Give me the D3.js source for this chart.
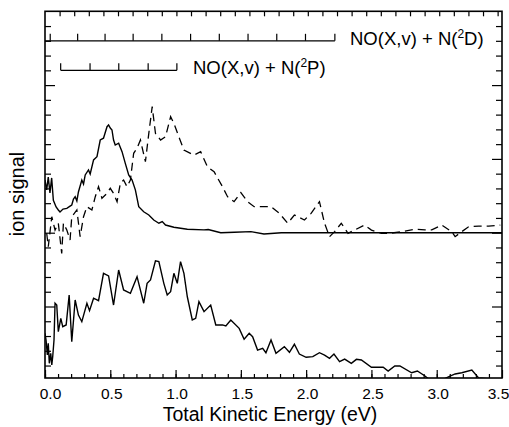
<!DOCTYPE html>
<html>
<head>
<meta charset="utf-8">
<script src="https://cdn.jsdelivr.net/npm/d3@7"></script>
<style>
  body { margin: 0; background: #fff; }
  text { font-family: "Liberation Sans", Arial, sans-serif; fill: #000; }
</style>
</head>
<body>
<div id="chart"></div>
<script>
// energy (eV) tick labels on the bottom axis
const energyMajor = [0, 0.5, 1.0, 1.5, 2.0, 2.5, 3.0, 3.5];
const energyMinor = d3.range(0, 35).map(function (i) { return i / 10; });

// vibrational combs: NO(X,v) levels in total kinetic energy (eV)
const combD = [2.22, 1.995, 1.775, 1.555, 1.335, 1.115, 0.895, 0.675, 0.46, 0.25, 0.04];
const combP = [1.01, 0.79, 0.565, 0.345, 0.12];
const combDLevel = 23;
const combPLevel = 21;

// upper traces sit on a baseline offset
const upperOffset = 10;

// upper solid trace [eV, signal]
const upperSolid = [
  [0, 3.57], [0.013, 2.9], [0.025, 3.77], [0.038, 2.69], [0.051, 3.71], [0.064, 2.2],
  [0.085, 1.74], [0.102, 1.54], [0.115, 1.4], [0.138, 1.6], [0.167, 1.65], [0.192, 1.8],
  [0.205, 1.88], [0.218, 2.28], [0.231, 2.44], [0.244, 2.15], [0.256, 2.76], [0.282, 3.57],
  [0.295, 3.3], [0.308, 3.91], [0.333, 4.25], [0.346, 3.98], [0.372, 4.93], [0.398, 5.15],
  [0.423, 6.28], [0.448, 6.4], [0.475, 7.18], [0.487, 7.3], [0.5, 7.09], [0.513, 6.96],
  [0.525, 6.28], [0.538, 5.94], [0.564, 6.06], [0.59, 5.49], [0.615, 4.7], [0.641, 3.91],
  [0.667, 3.57], [0.692, 2.9], [0.718, 1.76], [0.756, 1.42], [0.795, 1.2], [0.833, 0.86],
  [0.872, 0.64], [0.898, 0.75], [0.923, 0.52], [0.987, 0.37], [1.09, 0.23], [1.218, 0.19],
  [1.25, 0.22], [1.346, 0.0], [1.45, 0.03], [1.577, 0.07], [1.677, -0.09], [1.81, 0],
  [2.2, 0.0], [2.5, 0], [3.5, 0]
];

// upper dashed trace [eV, signal]
const upperDashed = [
  [0.013, -0.04], [0.025, -0.95], [0.052, 1.08], [0.077, 0.18], [0.102, 0.64], [0.128, -1.4],
  [0.141, 0.64], [0.167, 0.18], [0.192, -0.49], [0.205, 1.08], [0.244, 1.54], [0.269, -0.27],
  [0.295, 1.08], [0.321, 1.76], [0.359, 1.54], [0.385, 2.44], [0.41, 3.12], [0.436, 2.33],
  [0.475, 2.67], [0.5, 3.01], [0.525, 2.67], [0.552, 2.1], [0.577, 3.35], [0.602, 3.57],
  [0.628, 3.12], [0.654, 3.57], [0.679, 5.38], [0.705, 5.72], [0.731, 6.28], [0.769, 4.81],
  [0.795, 6.73], [0.821, 8.54], [0.846, 6.73], [0.885, 6.28], [0.923, 6.5], [0.962, 7.86],
  [0.987, 7.41], [1.025, 6.5], [1.064, 5.6], [1.141, 5.26], [1.192, 5.49], [1.244, 4.47],
  [1.295, 4.13], [1.359, 3.12], [1.398, 2.44], [1.448, 2.1], [1.5, 2.72], [1.551, 2.1],
  [1.602, 1.76], [1.667, 1.76], [1.731, 1.76], [1.795, 1.31], [1.859, 0.64], [1.91, 1.2],
  [1.987, 0.86], [2.038, 1.31], [2.102, 2.1], [2.141, 0.64], [2.179, -0.27], [2.218, 0.07],
  [2.269, 0.64], [2.321, -0.04], [2.371, 0.18], [2.448, 0.52], [2.5, 0.18], [2.577, -0.04],
  [2.641, -0.04], [2.731, 0.07], [2.833, 0.23], [2.91, 0.19], [2.962, 0.19], [3.038, 0.52],
  [3.115, 0.07], [3.141, -0.27], [3.192, 0.07], [3.244, 0.4], [3.321, 0.45], [3.398, 0.45],
  [3.487, 0.52]
];

// lower solid trace [eV, signal]
const lowerSolid = [
  [0, 3.18], [0.008, 2.73], [0.018, 1.71], [0.025, 2.51], [0.033, 1.15], [0.044, 1.83],
  [0.052, 1.04], [0.059, 1.6], [0.069, 2.73], [0.077, 5.22], [0.09, 5.1], [0.102, 3.29],
  [0.121, 4.2], [0.136, 3.63], [0.162, 3.75], [0.185, 5.78], [0.205, 2.62], [0.231, 5.44],
  [0.256, 4.42], [0.282, 3.97], [0.321, 5.22], [0.341, 4.72], [0.372, 5.56], [0.41, 5.39],
  [0.448, 7.25], [0.487, 7.07], [0.525, 5.1], [0.564, 7.47], [0.602, 6.12], [0.654, 5.89],
  [0.705, 7.02], [0.756, 5.22], [0.782, 6.57], [0.808, 6.8], [0.846, 8.1], [0.872, 8.04],
  [0.91, 6.57], [0.936, 5.78], [0.962, 6.0], [0.987, 7.25], [1.013, 6.57], [1.038, 8.04],
  [1.064, 7.25], [1.09, 5.66], [1.128, 4.09], [1.154, 4.2], [1.179, 5.33], [1.218, 4.65],
  [1.269, 5.1], [1.308, 3.75], [1.359, 3.75], [1.385, 3.68], [1.423, 4.09], [1.487, 3.52],
  [1.525, 2.78], [1.564, 3.18], [1.59, 2.95], [1.628, 2.05], [1.667, 2.17], [1.692, 1.87],
  [1.731, 2.73], [1.769, 1.83], [1.833, 2.28], [1.872, 1.9], [1.91, 2.44], [1.948, 1.78],
  [2.0, 1.56], [2.051, 1.6], [2.102, 1.87], [2.141, 1.71], [2.179, 1.49], [2.213, 1.78],
  [2.256, 1.26], [2.295, 1.44], [2.346, 1.15], [2.385, 1.42], [2.423, 1.38], [2.5, 0.88],
  [2.59, 0.88], [2.628, 0.63], [2.679, 0.97], [2.718, 0.97], [2.808, 0.51], [2.852, 0.63],
  [2.91, 0.29], [2.948, 0.02], [3.04, 0.02], [3.102, 0.29], [3.141, 0.43], [3.192, 0.51],
  [3.269, 0.7], [3.321, 0.16], [3.5, 0.02]
];

const W = 509, H = 427;
const box = { left: 45, right: 502, top: 11.3, bottom: 378 };

const x = d3.scaleLinear().domain([0, 3.5]).range([box.left, box.right]);
const y = d3.scaleLinear().domain([0, 25]).range([380.3, box.top]);
// top frame carries plain evenly spaced ticks
const xTop = d3.scaleLinear().domain([0, 31.3]).range([box.left, box.right]);

const svg = d3.select("#chart").append("svg")
  .attr("width", W).attr("height", H);

svg.append("defs").append("clipPath").attr("id", "clip")
  .append("rect")
  .attr("x", box.left).attr("y", box.top)
  .attr("width", box.right - box.left).attr("height", box.bottom - box.top);

function styleAxis(g) {
  g.select(".domain").remove();
  g.selectAll(".tick line").attr("stroke", "#000").attr("stroke-width", 1.2);
}

// bottom axis: minor then major with labels
svg.append("g")
  .attr("transform", `translate(0,${box.bottom})`)
  .call(d3.axisBottom(x).tickValues(energyMinor).tickSize(-4).tickFormat(""))
  .call(styleAxis);
svg.append("g")
  .attr("transform", `translate(0,${box.bottom})`)
  .call(d3.axisBottom(x).tickValues(energyMajor).tickSize(-8).tickPadding(10)
    .tickFormat(d3.format(".1f")))
  .call(styleAxis)
  .call(function (g) {
    g.selectAll("text").attr("font-size", 15.5).attr("fill", "#000")
      .attr("font-family", "Liberation Sans, Arial, sans-serif")
      .attr("dx", function (d) { return d === 0 ? 5 : (d === 3.5 ? -4 : 1); });
  });

// top axis
svg.append("g")
  .attr("transform", `translate(0,${box.top})`)
  .call(d3.axisTop(xTop).tickValues(d3.range(1, 32)).tickSize(-5).tickFormat(""))
  .call(styleAxis);

// left and right axes
const yMinor = d3.range(1, 25).filter(function (d) { return d % 5 !== 0; });
const yMajor = [5, 10, 15, 20];
[[d3.axisLeft, box.left], [d3.axisRight, box.right]].forEach(function (a) {
  svg.append("g")
    .attr("transform", `translate(${a[1]},0)`)
    .call(a[0](y).tickValues(yMinor).tickSize(-6).tickFormat(""))
    .call(styleAxis);
  svg.append("g")
    .attr("transform", `translate(${a[1]},0)`)
    .call(a[0](y).tickValues(yMajor).tickSize(-10).tickFormat(""))
    .call(styleAxis);
});

// frame
svg.append("rect")
  .attr("x", box.left).attr("y", box.top)
  .attr("width", box.right - box.left).attr("height", box.bottom - box.top)
  .attr("fill", "none").attr("stroke", "#000").attr("stroke-width", 1.6);

// combs
function drawComb(levels, start, level, tickH) {
  const yy = y(level);
  svg.append("line")
    .attr("x1", x(start)).attr("x2", x(d3.max(levels)))
    .attr("y1", yy).attr("y2", yy)
    .attr("stroke", "#000").attr("stroke-width", 1.3);
  svg.selectAll(null).data(levels).enter().append("line")
    .attr("x1", function (d) { return x(d); })
    .attr("x2", function (d) { return x(d); })
    .attr("y1", yy).attr("y2", yy - tickH)
    .attr("stroke", "#000").attr("stroke-width", 1.2);
}
drawComb(combD, 0, combDLevel, 7);
drawComb(combP, d3.min(combP), combPLevel, 7);

function label(tx, ty, state) {
  const t = svg.append("text").attr("x", tx).attr("y", ty).attr("font-size", 18.5);
  t.append("tspan").text("NO(X,v) + N(");
  t.append("tspan").attr("dy", -7).attr("font-size", 12).text("2");
  t.append("tspan").attr("dy", 7).text(state + ")");
}
label(350, 45, "D");
label(193, 74, "P");

// traces
const lineUpper = d3.line()
  .x(function (d) { return x(d[0]); })
  .y(function (d) { return y(d[1] + upperOffset); });
const lineLower = d3.line()
  .x(function (d) { return x(d[0]); })
  .y(function (d) { return y(d[1]); });

const plot = svg.append("g").attr("clip-path", "url(#clip)");
plot.append("path").datum(upperDashed)
  .attr("d", lineUpper).attr("fill", "none")
  .attr("stroke", "#000").attr("stroke-width", 1.3)
  .attr("stroke-dasharray", "8,5");
plot.append("path").datum(upperSolid)
  .attr("d", lineUpper).attr("fill", "none")
  .attr("stroke", "#000").attr("stroke-width", 1.4);
plot.append("path").datum(lowerSolid)
  .attr("d", lineLower).attr("fill", "none")
  .attr("stroke", "#000").attr("stroke-width", 1.4);

// axis titles
svg.append("text")
  .attr("x", 270).attr("y", 421)
  .attr("text-anchor", "middle").attr("font-size", 19.5)
  .text("Total Kinetic Energy (eV)");
svg.append("text")
  .attr("transform", "translate(24,194) rotate(-90)")
  .attr("text-anchor", "middle").attr("font-size", 20)
  .text("ion signal");
</script>
</body>
</html>
